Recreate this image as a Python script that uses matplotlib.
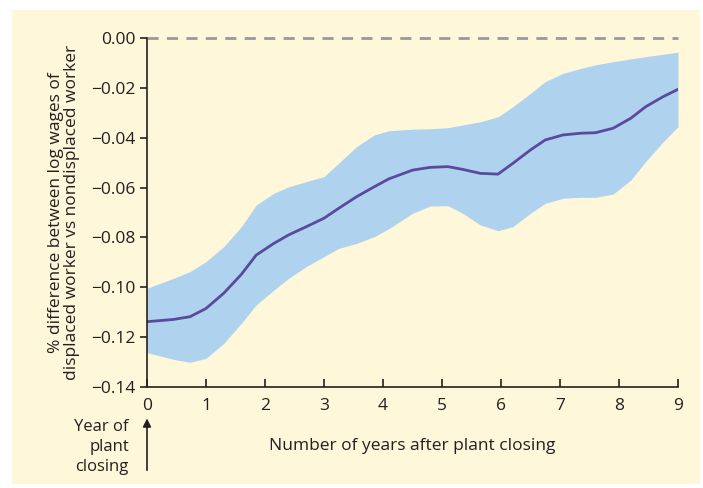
import matplotlib.pyplot as plt
from matplotlib.patches import Rectangle

# values
years = [0, 0.45, 0.73, 1.0, 1.3, 1.6, 1.85, 2.15, 2.4, 2.7, 3.0, 3.25, 3.55, 3.85,
         4.1, 4.5, 4.8, 5.1, 5.35, 5.65, 5.95, 6.2, 6.5, 6.75, 7.05, 7.35, 7.6, 7.9,
         8.2, 8.45, 8.75, 9.0]
mean_diff = [-0.1138, -0.1129, -0.1118, -0.1085, -0.1024, -0.0948, -0.0871, -0.0824,
             -0.0790, -0.0757, -0.0723, -0.0683, -0.0637, -0.0597, -0.0565, -0.0530,
             -0.0519, -0.0516, -0.0527, -0.0543, -0.0546, -0.0503, -0.0449, -0.0409,
             -0.0389, -0.0382, -0.0380, -0.0362, -0.0322, -0.0276, -0.0235, -0.0206]
upper = [-0.1004, -0.0964, -0.0937, -0.0897, -0.0837, -0.0757, -0.0670, -0.0623,
         -0.0597, -0.0576, -0.0556, -0.0502, -0.0436, -0.0389, -0.0372, -0.0366,
         -0.0364, -0.0360, -0.0349, -0.0336, -0.0316, -0.0276, -0.0222, -0.0175,
         -0.0142, -0.0122, -0.0108, -0.0095, -0.0084, -0.0075, -0.0065, -0.0057]
lower = [-0.1262, -0.1289, -0.1301, -0.1285, -0.1225, -0.1144, -0.1071, -0.1011,
         -0.0964, -0.0917, -0.0877, -0.0844, -0.0824, -0.0797, -0.0765, -0.0703,
         -0.0674, -0.0673, -0.0703, -0.0750, -0.0773, -0.0757, -0.0703, -0.0663,
         -0.0643, -0.0639, -0.0639, -0.0626, -0.0570, -0.0496, -0.0416, -0.0356]

xticks = list(range(0, 10))
yticks = [0.00, -0.02, -0.04, -0.06, -0.08, -0.10, -0.12, -0.14]

text_col = "#231f20"
plt.rcParams.update({"font.family": ["Open Sans", "DejaVu Sans"], "font.size": 12})

W, H = 703, 488
fig = plt.figure(figsize=(W / 100, H / 100), dpi=100)
fig.patch.set_facecolor("white")
# cream panel behind the chart
fig.patches.append(Rectangle((12 / W, 1 - 484 / H), 688 / W, 474 / H,
                             transform=fig.transFigure, facecolor="#fef7da",
                             edgecolor="none", zorder=-10))

ax = fig.add_axes([147 / W, 1 - 387 / H, 531 / W, 349 / H])
ax.set_facecolor("none")

ax.fill_between(years, lower, upper, color="#afd2ee", linewidth=0)
ax.plot(years, mean_diff, color="#5a4a9c", linewidth=2, solid_joinstyle="round")
ax.plot([0, 9], [0, 0], color="#999999", linestyle=(0, (4, 3)), linewidth=2,
        clip_on=False)

ax.set_xlim(0, 9)
ax.set_ylim(-0.14, 0)
ax.set_xticks(xticks)
ax.set_yticks(yticks)
ax.set_yticklabels([f"{v:.2f}".replace("-", "\u2212") for v in yticks])
for s in ["top", "right"]:
    ax.spines[s].set_visible(False)
for s in ["left", "bottom"]:
    ax.spines[s].set_color(text_col)
    ax.spines[s].set_linewidth(1.2)
ax.tick_params(axis="x", direction="in", length=6, width=1.2, colors=text_col,
               labelsize=12.5, pad=8)
ax.tick_params(axis="y", direction="out", length=5, width=1.2, colors=text_col,
               labelsize=12.5, pad=3)

ax.set_ylabel("% difference between log wages of\ndisplaced worker vs nondisplaced worker",
              fontsize=12.5, color=text_col, linespacing=1.0, labelpad=8)
fig.text(412 / W, 1 - 446 / H, "Number of years after plant closing",
         ha="center", va="center", fontsize=12.5, color=text_col)
fig.text(129 / W, 1 - 447 / H, "Year of\nplant\nclosing", ha="right", va="center",
         fontsize=12, color=text_col, linespacing=1.35)
ax.annotate("", xy=(0, -0.1515), xytext=(0, -0.1745), xycoords="data",
            arrowprops=dict(arrowstyle="-|>", color=text_col, lw=1.2,
                            mutation_scale=12), annotation_clip=False)

fig.savefig("out.png", dpi=100)
